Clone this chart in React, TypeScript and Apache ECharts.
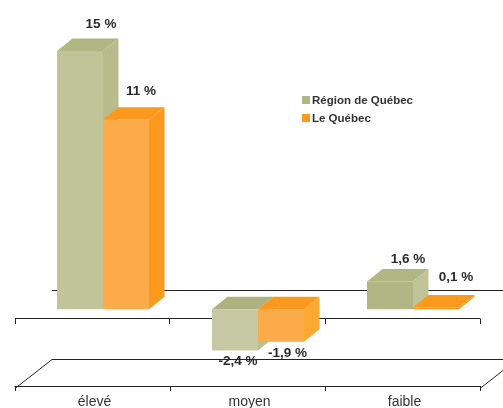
import React, { useEffect, useRef } from "react";
import * as echarts from "echarts";

const categories = ["élevé", "moyen", "faible"];
const regionValues = [15, -2.4, 1.6];
const quebecValues = [11, -1.9, 0.1];
const regionLabels = ["15 %", "-2,4 %", "1,6 %"];
const quebecLabels = ["11 %", "-1,9 %", "0,1 %"];
const seriesNames = ["Région de Québec", "Le Québec"];

const FONT = '"Liberation Sans", Arial, sans-serif';
const DX = 15.5;
const DY = -12.5;
const BAR_W = 46;
const GROUP_SHIFT = -35.5;

const regionOffsets = [[21, -27], [3, 10.5], [18, -23]];
const quebecOffsets = [[15, -29], [6.5, 11], [20, -31]];

const regionColors = [
  { front: "#c1c498", side: "#b8bc8c", top: "#b0b684" },
  { front: "#c5c8a2", side: "#bcc090", top: "#adb37f" },
  { front: "#b0b684", side: "#bfc396", top: "#b0b684" },
];
const quebecColors = [
  { front: "#fbab49", side: "#fa991e", top: "#fa991e" },
  { front: "#fbab49", side: "#fca833", top: "#fa991e" },
  { front: "#fa991e", side: "#fa991e", top: "#fa991e" },
];

function box(slot: number, colors: any[], labels: string[], offsets: number[][]) {
  return (params: any, api: any) => {
    const i = api.value(0);
    const v = api.value(1);
    const c = api.coord([i, v]);
    const z = api.coord([i, 0]);
    const col = colors[params.dataIndex];
    const off = offsets[params.dataIndex];
    const x0 = c[0] + GROUP_SHIFT + slot * BAR_W;
    const x1 = x0 + BAR_W;
    const yTop = Math.min(c[1], z[1]);
    const yBot = Math.max(c[1], z[1]);
    return {
      type: "group",
      children: [
        {
          type: "polygon",
          shape: { points: [[x1, yTop], [x1 + DX, yTop + DY], [x1 + DX, yBot + DY], [x1, yBot]] },
          style: { fill: col.side },
        },
        {
          type: "polygon",
          shape: { points: [[x0, yTop], [x0 + DX, yTop + DY], [x1 + DX, yTop + DY], [x1, yTop]] },
          style: { fill: col.top },
        },
        {
          type: "rect",
          shape: { x: x0, y: yTop, width: BAR_W, height: yBot - yTop },
          style: { fill: col.front },
        },
        {
          type: "text",
          z2: 50,
          x: x0 + BAR_W / 2 + off[0],
          y: c[1] + off[1],
          style: {
            text: labels[params.dataIndex],
            font: `bold 13.5px ${FONT}`,
            fill: "#2b2b2b",
            align: "center",
            verticalAlign: "middle",
          },
        },
      ],
    };
  };
}

function lineEl(x1: number, y1: number, x2: number, y2: number) {
  return {
    type: "line",
    z: 0,
    shape: { x1, y1, x2, y2 },
    style: { stroke: "#222222", lineWidth: 1 },
    silent: true,
  };
}

export default function App() {
  const ref = useRef<HTMLDivElement>(null);
  useEffect(() => {
    const chart = echarts.init(ref.current!, null, { renderer: "svg" });
    chart.setOption({
      animation: false,
      grid: { left: 15, width: 465, top: 33.67, height: 346.67 },
      xAxis: [
        {
          type: "category",
          data: categories,
          position: "bottom",
          offset: 8,
          axisLine: { onZero: false, lineStyle: { color: "#222222", width: 1 } },
          axisTick: { show: true, alignWithLabel: false, length: 5, lineStyle: { color: "#222222" } },
          axisLabel: { fontFamily: FONT, fontSize: 14, color: "#333333", margin: 8, padding: [0, 0, 0, 4] },
          splitLine: { show: false },
        },
      ],
      yAxis: { type: "value", min: -4, max: 16, show: false, splitLine: { show: false } },
      legend: { show: false },
      graphic: [
        lineEl(52, 290.5, 503, 290.5),
        lineEl(15, 318.5, 480, 318.5),
        lineEl(15.5, 318.5, 15.5, 324),
        lineEl(169.5, 318.5, 169.5, 324),
        lineEl(325.5, 318.5, 325.5, 324),
        lineEl(480.5, 318.5, 480.5, 324),
        lineEl(52, 359.5, 503, 359.5),
        lineEl(15, 388.5, 52, 359.5),
        lineEl(480, 388.5, 503, 370.5),
        { type: "rect", z: 5, shape: { x: 302, y: 96, width: 8, height: 8 }, style: { fill: "#b0b684" } },
        {
          type: "text",
          z: 5,
          x: 312,
          y: 100,
          style: { text: seriesNames[0], font: `bold 11.5px ${FONT}`, fill: "#333333", verticalAlign: "middle" },
        },
        { type: "rect", z: 5, shape: { x: 302, y: 114, width: 8, height: 8 }, style: { fill: "#fa991e" } },
        {
          type: "text",
          z: 5,
          x: 312,
          y: 118,
          style: { text: seriesNames[1], font: `bold 11.5px ${FONT}`, fill: "#333333", verticalAlign: "middle" },
        },
      ],
      series: [
        {
          type: "custom",
          name: seriesNames[0],
          z: 3,
          clip: false,
          renderItem: box(0, regionColors, regionLabels, regionOffsets),
          encode: { x: 0, y: 1 },
          data: regionValues.map((v, i) => [i, v]),
        },
        {
          type: "custom",
          name: seriesNames[1],
          z: 4,
          clip: false,
          renderItem: box(1, quebecColors, quebecLabels, quebecOffsets),
          encode: { x: 0, y: 1 },
          data: quebecValues.map((v, i) => [i, v]),
        },
      ],
    });
    return () => chart.dispose();
  }, []);
  return <div ref={ref} style={{ position: "fixed", left: 0, top: 0, width: 503, height: 408 }} />;
}
